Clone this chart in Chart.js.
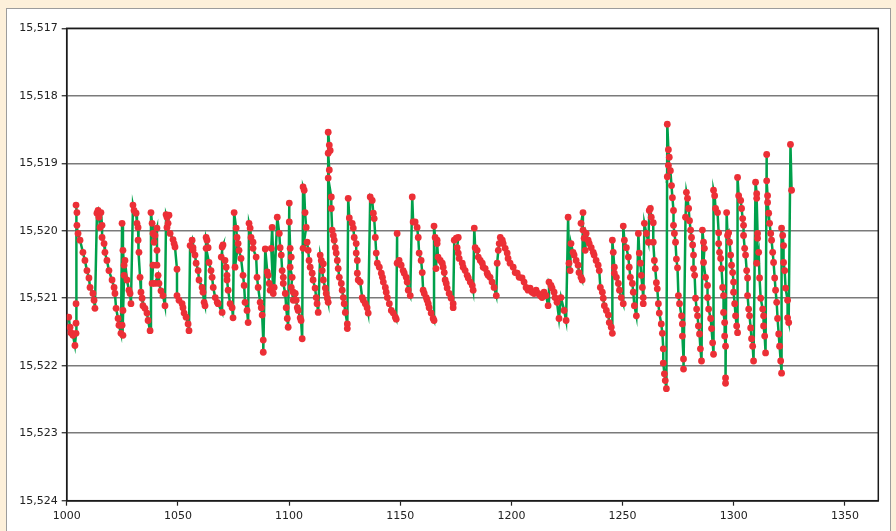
<!DOCTYPE html>
<html>
<head>
<meta charset="utf-8">
<script src="https://cdn.jsdelivr.net/npm/chart.js@4.4.1/dist/chart.umd.min.js"></script>
<style>
  html, body { margin: 0; padding: 0; background: #fdf0da; overflow: hidden; width: 896px; height: 531px; }
  #panel { position: absolute; left: 6px; top: 8px; width: 883px; height: 540px; background: #fff; border: 1px solid #9c9c9c; }
  #wrap { position: absolute; left: 0; top: 0; width: 896px; height: 531px; }
</style>
</head>
<body>
<div id="panel"></div>
<div id="wrap"><canvas id="chart" width="896" height="531"></canvas></div>
<script>
// Valores (um dente da serra por linha)
const xValues = [
  1000.9, 1001.5, 1001.9, 1002.8, 1003.7, 1004.2, 1004.2, 1004.2,
  1004.2, 1004.6, 1004.6, 1005.1, 1006.0, 1007.3, 1008.2, 1009.1, 1010.0, 1010.5, 1011.8, 1012.3, 1012.7,
  1013.6, 1014.1, 1014.5, 1015.0, 1015.4, 1015.9, 1015.9, 1016.8, 1017.2, 1018.1, 1019.0, 1020.4, 1021.3, 1021.7, 1022.2, 1023.1, 1023.5, 1024.4,
  1024.9, 1025.3, 1025.8, 1025.3, 1024.9, 1025.3, 1025.8, 1026.2, 1027.1, 1028.0, 1028.5, 1028.9,
  1029.8, 1030.3, 1031.2, 1031.6, 1032.1, 1032.1, 1032.5, 1033.0, 1033.4, 1033.9, 1034.3, 1035.2, 1036.1, 1036.6, 1037.5,
  1037.9, 1038.4, 1038.8, 1039.3, 1039.7, 1040.6, 1040.6, 1040.6, 1038.8, 1038.4, 1039.7, 1041.1, 1041.5, 1042.4, 1043.3, 1044.2,
  1044.7, 1045.1, 1046.0, 1045.6, 1045.1, 1046.5, 1047.8, 1048.3, 1048.7, 1049.6, 1049.6, 1050.5, 1051.9, 1052.3, 1052.8, 1053.7, 1054.6, 1055.0,
  1055.5, 1056.4, 1056.8, 1056.8, 1057.7, 1058.2, 1059.1, 1059.5, 1060.9, 1061.3, 1061.8, 1062.2,
  1062.7, 1063.1, 1063.6, 1062.7, 1064.0, 1064.9, 1065.4, 1065.9, 1066.8, 1067.7, 1068.1, 1069.9,
  1069.9, 1070.3, 1069.5, 1071.2, 1071.7, 1072.1, 1072.1, 1072.6, 1073.5, 1074.4, 1074.8,
  1075.3, 1076.2, 1076.6, 1075.7, 1077.1, 1077.5, 1078.4, 1079.3, 1079.8, 1080.2, 1081.1, 1081.6,
  1082.0, 1082.5, 1082.9, 1083.8, 1083.8, 1085.2, 1085.6, 1086.1, 1087.0, 1087.5, 1087.9, 1088.4, 1088.4,
  1089.3, 1090.2, 1090.6, 1091.1, 1091.5, 1092.4, 1092.9, 1092.0, 1092.4, 1093.3,
  1094.7, 1095.6, 1096.0, 1096.5, 1096.9, 1097.4, 1097.4, 1098.3, 1098.7, 1099.2, 1099.6,
  1100.1, 1100.1, 1100.5, 1101.0, 1100.5, 1101.4, 1101.0, 1101.9, 1101.9, 1102.8, 1103.2, 1103.7, 1104.1, 1105.0, 1105.4, 1105.9,
  1106.3, 1106.8, 1107.2, 1107.7, 1106.3, 1108.1, 1108.6, 1109.0, 1109.5, 1110.4, 1110.8, 1111.7, 1112.2, 1112.6, 1113.1,
  1114.0, 1114.5, 1115.4, 1114.9, 1115.4, 1116.3, 1116.7, 1117.2, 1117.6,
  1117.6, 1118.1, 1118.5, 1117.6, 1118.1, 1117.6, 1119.0, 1119.0, 1119.4, 1119.9, 1120.3, 1120.8, 1121.2, 1121.7, 1122.1, 1122.6, 1123.5, 1123.9, 1124.4, 1124.8, 1125.3, 1126.2, 1126.2,
  1126.6, 1127.1, 1128.4, 1128.9, 1129.3, 1130.2, 1130.2, 1130.7, 1130.7, 1131.1, 1132.0, 1132.9, 1133.4, 1134.3, 1135.1, 1135.6,
  1136.5, 1137.4, 1137.9, 1138.3, 1138.8, 1139.2, 1139.7, 1140.6, 1141.5, 1142.0, 1142.4, 1143.3, 1143.7, 1144.2, 1145.1, 1146.0, 1146.9, 1147.8, 1148.2,
  1148.6, 1148.6, 1149.5, 1150.4, 1151.3, 1151.8, 1152.7, 1153.1, 1153.6, 1154.5,
  1155.4, 1155.8, 1156.7, 1157.6, 1158.1, 1158.5, 1159.4, 1159.9, 1160.3, 1160.8, 1161.7, 1162.1, 1162.6, 1163.0, 1163.9, 1164.8, 1165.2,
  1165.2, 1165.7, 1166.6, 1166.1, 1166.6, 1167.0, 1168.0, 1168.9, 1169.3, 1169.8, 1170.2, 1170.7, 1171.1, 1172.0, 1172.9, 1173.8, 1173.8,
  1174.3, 1175.2, 1176.1, 1175.6, 1176.1, 1176.5, 1177.9, 1178.3, 1179.2, 1180.1, 1180.6, 1181.5, 1182.4, 1182.8,
  1183.3, 1183.7, 1184.6, 1185.1, 1186.0, 1186.9, 1187.3, 1188.2, 1189.1, 1189.5, 1190.4, 1191.3, 1192.2, 1193.2,
  1193.6, 1194.1, 1194.5, 1195.0, 1195.9, 1196.3, 1197.2, 1198.1, 1198.5, 1199.4, 1200.8, 1201.7, 1202.6, 1203.5, 1204.8, 1205.7, 1206.6, 1207.5, 1208.4, 1209.3, 1210.2, 1211.1, 1212.0, 1212.9, 1213.8, 1214.7, 1215.6, 1216.5,
  1216.9, 1217.8, 1218.3, 1219.2, 1219.6, 1220.5, 1221.4, 1222.3, 1223.7, 1224.6,
  1225.5, 1225.9, 1226.4, 1226.8, 1227.7, 1228.2, 1229.1, 1230.0, 1230.4, 1231.3, 1231.8,
  1232.2, 1231.3, 1232.2, 1232.7, 1233.2, 1233.6, 1234.5, 1235.0, 1235.9, 1236.8, 1237.2, 1238.1, 1239.0, 1239.5, 1240.0, 1240.9, 1241.3, 1241.8, 1242.7, 1243.6, 1244.0, 1244.9, 1245.4,
  1245.4, 1245.8, 1246.3, 1246.3, 1247.2, 1248.1, 1248.6, 1249.4, 1250.3,
  1250.3, 1250.8, 1251.7, 1252.6, 1253.0, 1253.5, 1254.4, 1254.8, 1255.3, 1256.2,
  1257.1, 1257.5, 1258.0, 1258.4, 1258.9, 1259.3, 1259.3,
  1259.8, 1260.7, 1261.6, 1262.0, 1262.5, 1262.9, 1263.8, 1263.8, 1264.3, 1264.7, 1265.2, 1265.6, 1266.1, 1266.5, 1267.4, 1267.9, 1268.3, 1268.3, 1268.8, 1269.2, 1269.7,
  1270.1, 1270.6, 1271.0, 1270.6, 1270.1, 1271.5, 1272.0, 1272.4, 1272.9, 1272.9, 1273.3, 1273.8, 1274.2, 1274.7, 1275.1, 1275.6, 1276.5, 1276.9, 1276.9, 1277.4, 1277.4,
  1278.3, 1278.7, 1279.2, 1279.7, 1280.1, 1280.6, 1281.0, 1281.5, 1281.9, 1281.9, 1282.4, 1282.8, 1283.3, 1283.7, 1284.1, 1284.6, 1285.0, 1285.5,
  1285.9, 1286.4, 1286.8, 1286.4, 1287.3, 1288.2, 1288.2, 1288.7, 1289.6, 1290.0, 1290.5, 1290.9,
  1290.9, 1291.4, 1291.8, 1292.7, 1293.2, 1293.2, 1293.6, 1294.1, 1294.5, 1295.0, 1295.4, 1295.4, 1295.9, 1295.9, 1296.3, 1296.3, 1296.3,
  1296.8, 1297.2, 1297.7, 1298.1, 1298.6, 1299.0, 1299.5, 1299.9, 1299.9, 1300.4, 1300.8, 1301.3, 1301.7,
  1301.7, 1302.2, 1303.1, 1303.5, 1304.0, 1304.4, 1304.4, 1304.9, 1305.3, 1305.8, 1306.2, 1306.2, 1306.7, 1307.1, 1307.6, 1308.0, 1308.5, 1308.9,
  1309.8, 1310.3, 1310.3, 1310.7, 1310.7, 1310.3, 1311.2, 1311.6, 1312.1, 1313.0, 1313.4, 1313.4, 1313.9, 1314.3,
  1314.8, 1314.8, 1315.2, 1315.2, 1315.7, 1316.1, 1316.6, 1317.0, 1317.5, 1317.9, 1318.4, 1318.8, 1319.3, 1319.7, 1320.2, 1320.6, 1321.1, 1321.5,
  1321.5, 1322.0, 1322.4, 1322.4, 1322.9, 1323.3, 1324.2, 1324.2, 1324.7,
  1325.5, 1326.0
];

const yValues = [
  15.52128, 15.52143, 15.52151, 15.52155, 15.52170, 15.52152, 15.52137, 15.52108,
  15.51962, 15.51973, 15.51992, 15.52004, 15.52014, 15.52032, 15.52044, 15.52059, 15.52070, 15.52084, 15.52093, 15.52103, 15.52115,
  15.51974, 15.51970, 15.51980, 15.51995, 15.51973, 15.51992, 15.52010, 15.52019, 15.52032, 15.52044, 15.52059, 15.52073, 15.52084, 15.52093, 15.52115, 15.52130, 15.52140, 15.52152,
  15.51989, 15.52029, 15.52051, 15.52118, 15.52140, 15.52155, 15.52066, 15.52044, 15.52073, 15.52088, 15.52093, 15.52108,
  15.51962, 15.51970, 15.51974, 15.51989, 15.51995, 15.52014, 15.52032, 15.52069, 15.52091, 15.52100, 15.52111, 15.52115, 15.52122, 15.52133, 15.52148,
  15.51973, 15.51989, 15.52004, 15.52017, 15.52007, 15.51996, 15.52029, 15.52051, 15.52051, 15.52078, 15.52078, 15.52066, 15.52078, 15.52089, 15.52096, 15.52111,
  15.51976, 15.51980, 15.51977, 15.51989, 15.51995, 15.52004, 15.52013, 15.52019, 15.52024, 15.52057, 15.52096, 15.52103, 15.52108, 15.52114, 15.52122, 15.52128, 15.52138, 15.52148,
  15.52022, 15.52014, 15.52025, 15.52029, 15.52036, 15.52048, 15.52059, 15.52073, 15.52084, 15.52091, 15.52106, 15.52111,
  15.52010, 15.52014, 15.52025, 15.52026, 15.52047, 15.52059, 15.52069, 15.52084, 15.52099, 15.52106, 15.52108, 15.52121,
  15.52024, 15.52021, 15.52039, 15.52044, 15.52054, 15.52066, 15.52073, 15.52088, 15.52108, 15.52114, 15.52129,
  15.51973, 15.51996, 15.52010, 15.52054, 15.52019, 15.52029, 15.52041, 15.52066, 15.52081, 15.52106, 15.52118, 15.52136,
  15.51989, 15.51996, 15.52010, 15.52017, 15.52026, 15.52039, 15.52069, 15.52084, 15.52106, 15.52114, 15.52125, 15.52162, 15.52180,
  15.52027, 15.52061, 15.52066, 15.52078, 15.52088, 15.52085, 15.52093, 15.52026, 15.51995, 15.52084,
  15.51980, 15.52004, 15.52025, 15.52036, 15.52059, 15.52069, 15.52078, 15.52093, 15.52114, 15.52130, 15.52143,
  15.51959, 15.51987, 15.52026, 15.52039, 15.52054, 15.52069, 15.52084, 15.52103, 15.52091, 15.52093, 15.52103, 15.52114, 15.52118, 15.52129, 15.52133, 15.52160,
  15.51935, 15.51940, 15.51973, 15.51995, 15.52026, 15.52017, 15.52029, 15.52044, 15.52054, 15.52063, 15.52073, 15.52085, 15.52099, 15.52108, 15.52121,
  15.52036, 15.52044, 15.52049, 15.52059, 15.52073, 15.52085, 15.52093, 15.52100, 15.52106,
  15.51854, 15.51873, 15.51881, 15.51885, 15.51910, 15.51922, 15.51950, 15.51967, 15.51999, 15.52007, 15.52014, 15.52025, 15.52033, 15.52044, 15.52056, 15.52069, 15.52078, 15.52088, 15.52099, 15.52108, 15.52121, 15.52138, 15.52145,
  15.51952, 15.51981, 15.51989, 15.51996, 15.52010, 15.52019, 15.52033, 15.52044, 15.52063, 15.52073, 15.52076, 15.52099, 15.52103, 15.52108, 15.52114, 15.52122,
  15.51950, 15.51955, 15.51974, 15.51982, 15.52010, 15.52033, 15.52048, 15.52054, 15.52063, 15.52069, 15.52076, 15.52084, 15.52091, 15.52099, 15.52108, 15.52118, 15.52122, 15.52128, 15.52131,
  15.52004, 15.52048, 15.52044, 15.52051, 15.52059, 15.52063, 15.52069, 15.52076, 15.52088, 15.52096,
  15.51950, 15.51987, 15.51987, 15.51995, 15.52010, 15.52033, 15.52044, 15.52062, 15.52088, 15.52093, 15.52099, 15.52103, 15.52108, 15.52114, 15.52122, 15.52130, 15.52133,
  15.51993, 15.52010, 15.52014, 15.52056, 15.52019, 15.52039, 15.52044, 15.52048, 15.52054, 15.52062, 15.52073, 15.52078, 15.52085, 15.52093, 15.52100, 15.52108, 15.52114,
  15.52014, 15.52011, 15.52010, 15.52025, 15.52033, 15.52041, 15.52048, 15.52054, 15.52059, 15.52066, 15.52070, 15.52076, 15.52081, 15.52088,
  15.51996, 15.52025, 15.52029, 15.52039, 15.52044, 15.52048, 15.52054, 15.52056, 15.52063, 15.52066, 15.52069, 15.52076, 15.52084, 15.52096,
  15.52048, 15.52029, 15.52019, 15.52010, 15.52014, 15.52019, 15.52026, 15.52033, 15.52041, 15.52048, 15.52054, 15.52062, 15.52063, 15.52069, 15.52070, 15.52076, 15.52084, 15.52088, 15.52085, 15.52091, 15.52093, 15.52088, 15.52093, 15.52096, 15.52099, 15.52091, 15.52096, 15.52111,
  15.52076, 15.52081, 15.52085, 15.52091, 15.52099, 15.52106, 15.52130, 15.52099, 15.52118, 15.52133,
  15.51980, 15.52048, 15.52059, 15.52019, 15.52032, 15.52036, 15.52044, 15.52051, 15.52062, 15.52069, 15.52073,
  15.51973, 15.51989, 15.51999, 15.52011, 15.52029, 15.52004, 15.52014, 15.52019, 15.52025, 15.52032, 15.52036, 15.52044, 15.52051, 15.52059, 15.52084, 15.52091, 15.52100, 15.52111, 15.52118, 15.52125, 15.52136, 15.52143, 15.52152,
  15.52014, 15.52032, 15.52054, 15.52063, 15.52069, 15.52078, 15.52088, 15.52099, 15.52108,
  15.51993, 15.52014, 15.52025, 15.52039, 15.52054, 15.52069, 15.52078, 15.52091, 15.52111, 15.52126,
  15.52004, 15.52033, 15.52048, 15.52066, 15.52084, 15.52099, 15.52108,
  15.51989, 15.52004, 15.52017, 15.51970, 15.51967, 15.51980, 15.51988, 15.52017, 15.52044, 15.52056, 15.52077, 15.52086, 15.52108, 15.52122, 15.52138, 15.52152, 15.52175, 15.52196, 15.52212, 15.52222, 15.52234,
  15.51842, 15.51880, 15.51891, 15.51903, 15.51920, 15.51911, 15.51933, 15.51951, 15.51970, 15.51992, 15.52004, 15.52017, 15.52042, 15.52055, 15.52096, 15.52108, 15.52126, 15.52138, 15.52156, 15.52190, 15.52205,
  15.51980, 15.51943, 15.51952, 15.51967, 15.51985, 15.51999, 15.52010, 15.52021, 15.52036, 15.52056, 15.52066, 15.52100, 15.52116, 15.52126, 15.52141, 15.52153, 15.52175, 15.52193,
  15.51999, 15.52017, 15.52026, 15.52047, 15.52069, 15.52081, 15.52099, 15.52116, 15.52130, 15.52145, 15.52166, 15.52183,
  15.51940, 15.51948, 15.51967, 15.51973, 15.52003, 15.52019, 15.52032, 15.52041, 15.52056, 15.52084, 15.52096, 15.52121, 15.52136, 15.52156, 15.52171, 15.52218, 15.52226,
  15.51973, 15.52007, 15.52003, 15.52017, 15.52036, 15.52051, 15.52062, 15.52076, 15.52091, 15.52108, 15.52126, 15.52141, 15.52151,
  15.51921, 15.51948, 15.51955, 15.51967, 15.51982, 15.51992, 15.52007, 15.52026, 15.52036, 15.52059, 15.52070, 15.52096, 15.52116, 15.52126, 15.52144, 15.52160, 15.52171, 15.52193,
  15.51928, 15.51945, 15.51952, 15.52004, 15.52011, 15.52048, 15.52032, 15.52070, 15.52100, 15.52116, 15.52126, 15.52141, 15.52156, 15.52181,
  15.51887, 15.51926, 15.51948, 15.51958, 15.51974, 15.51989, 15.52004, 15.52014, 15.52032, 15.52047, 15.52070, 15.52088, 15.52106, 15.52130, 15.52153, 15.52171, 15.52193, 15.52211,
  15.51996, 15.52007, 15.52022, 15.52047, 15.52059, 15.52085, 15.52103, 15.52129, 15.52136,
  15.51872, 15.51940
];

// Limites dos eixos e marcas
const xMin = 1000, xMax = 1365, xStep = 50;
const yMin = 15.517, yMax = 15.524, yStep = 0.001;

const points = xValues.map((x, i) => ({ x: x, y: yValues[i] }));

const tickFont = { family: 'DejaVu Sans', size: 11 };

// Moldura preta em volta da área do gráfico
const plotFrame = {
  id: 'plotFrame',
  beforeDatasetsDraw(chart) {
    const a = chart.chartArea;
    const ctx = chart.ctx;
    ctx.save();
    ctx.strokeStyle = '#1a1a1a';
    ctx.lineWidth = 1.5;
    ctx.strokeRect(a.left, a.top, a.right - a.left, a.bottom - a.top);
    ctx.restore();
  }
};

new Chart(document.getElementById('chart'), {
  type: 'line',
  data: {
    datasets: [{
      data: points,
      borderColor: '#00a04b',
      borderWidth: 2.5,
      pointRadius: 3.4,
      pointBackgroundColor: '#ec2f36',
      pointBorderColor: '#ec2f36',
      pointBorderWidth: 0,
      tension: 0
    }]
  },
  options: {
    responsive: false,
    animation: false,
    events: [],
    layout: { padding: { left: 6, right: 17.7, top: 28.3, bottom: 0 } },
    plugins: { legend: { display: false }, tooltip: { enabled: false } },
    scales: {
      x: {
        type: 'linear',
        min: xMin,
        max: xMax,
        ticks: {
          stepSize: xStep,
          includeBounds: false,
          font: tickFont,
          color: '#222',
          padding: 4,
          maxRotation: 0,
          callback: v => String(v)
        },
        grid: { drawOnChartArea: false, drawTicks: true, tickLength: 5, tickColor: '#222', tickWidth: 1.2 },
        border: { color: '#1a1a1a', width: 1.5 },
        afterFit(scale) { scale.height = 30.3; }
      },
      y: {
        type: 'linear',
        reverse: true,
        min: yMin,
        max: yMax,
        ticks: {
          stepSize: yStep,
          font: tickFont,
          color: '#222',
          padding: 4,
          callback: v => v.toFixed(3).replace('.', ',')
        },
        grid: { color: '#7a7a7a', lineWidth: 1.5, tickLength: 5, tickColor: '#222', tickWidth: 1.2 },
        border: { color: '#1a1a1a', width: 1.5 },
        afterFit(scale) { scale.width = 60.7; }
      }
    }
  },
  plugins: [plotFrame]
});
</script>
</body>
</html>
